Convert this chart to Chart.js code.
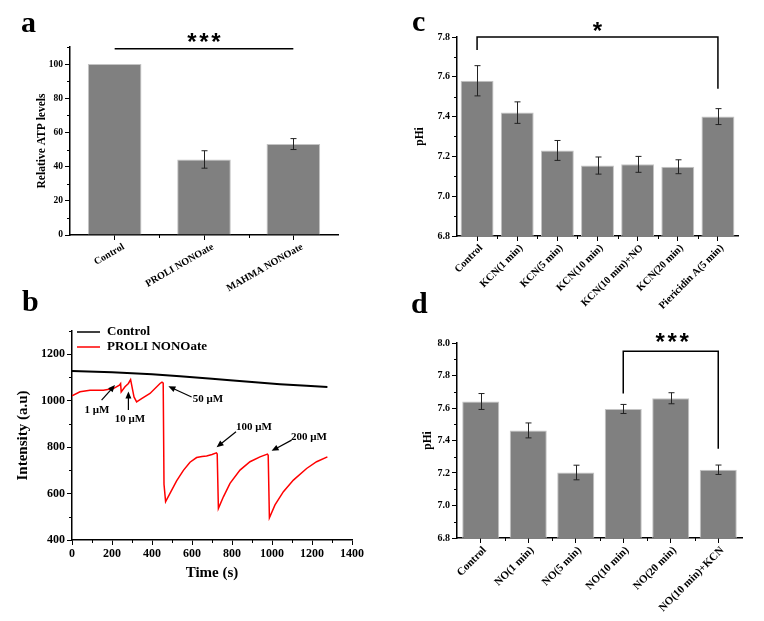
<!DOCTYPE html>
<html>
<head>
<meta charset="utf-8">
<script src="https://cdn.jsdelivr.net/npm/chart.js@4.4.1/dist/chart.umd.min.js"></script>
<style>
  body { margin: 0; background: #fff; }
  #figura { position: relative; width: 764px; height: 621px; overflow: hidden; background: #fff; }
  canvas { position: absolute; }
  .letra { position: absolute; font: bold 30px "Liberation Serif", "Times New Roman", serif; line-height: 1; color: #000; }
</style>
</head>
<body>
<div id="figura">
  <canvas id="graficoA" width="380" height="300" style="left:0;top:0"></canvas>
  <canvas id="graficoB" width="380" height="321" style="left:0;top:300px"></canvas>
  <canvas id="graficoC" width="384" height="320" style="left:380px;top:0"></canvas>
  <canvas id="graficoD" width="384" height="321" style="left:380px;top:300px"></canvas>
  <div class="letra" style="left:21px;top:7px">a</div>
  <div class="letra" style="left:22px;top:286px">b</div>
  <div class="letra" style="left:412px;top:6px">c</div>
  <div class="letra" style="left:411px;top:288px">d</div>
</div>
<script>
// painel a
const rotulosA = ['Control', 'PROLI NONOate', 'MAHMA NONOate'];
const atpMedia = [100, 44.2, 53.2];
const atpErro = [0, 5.1, 3.2];

// painel b
const tempoControle = [0, 200, 400, 540, 700, 790, 900, 1040, 1173, 1277];
const intensControle = [1128, 1122, 1114, 1105, 1094, 1088, 1080, 1071, 1064, 1059];
const tempoProli = [0, 40, 90, 157, 207, 237, 243, 246, 265, 282, 293, 310, 323, 348, 390, 440, 450, 456, 460, 468,
  490, 523, 557, 590, 623, 650, 673, 700, 722, 726, 732, 757, 790, 840, 890, 940, 977, 981, 987,
  1015, 1057, 1107, 1173, 1223, 1277];
const intensProli = [1021, 1038, 1045, 1045, 1052, 1067, 1074, 1038, 1060, 1074, 1091, 1016, 995, 1009, 1031, 1074, 1080, 1076, 640, 565,
  601, 655, 700, 735, 755, 760, 762, 768, 775, 770, 536, 586, 644, 701, 737, 758, 770, 765, 496,
  551, 608, 658, 708, 737, 758];

// painel c
const rotulosC = ['Control', 'KCN(1 min)', 'KCN(5 min)', 'KCN(10 min)', 'KCN(10 min)+NO', 'KCN(20 min)', 'Piericidin A(5 min)'];
const phiC = [7.58, 7.42, 7.23, 7.154, 7.16, 7.148, 7.40];
const erroC = [0.076, 0.054, 0.05, 0.043, 0.04, 0.035, 0.04];

// painel d
const rotulosD = ['Control', 'NO(1 min)', 'NO(5 min)', 'NO(10 min)', 'NO(20 min)', 'NO(10 min)+KCN'];
const phiD = [7.64, 7.462, 7.203, 7.594, 7.66, 7.22];
const erroD = [0.049, 0.046, 0.045, 0.028, 0.034, 0.029];

Chart.defaults.font.family = '"Liberation Serif", "Times New Roman", serif';
Chart.defaults.font.weight = 'bold';
Chart.defaults.color = '#000';

const FONTE_SANS = '"Liberation Sans", Arial, sans-serif';

function linha(ctx, x1, y1, x2, y2) {
  ctx.beginPath(); ctx.moveTo(x1, y1); ctx.lineTo(x2, y2); ctx.stroke();
}

// ticks menores (estilo Origin)
const pluginTicksMenores = {
  id: 'ticksMenores',
  afterDraw(chart) {
    const { ctx } = chart;
    const x = chart.scales.x, y = chart.scales.y;
    ctx.save();
    ctx.strokeStyle = '#000';
    ctx.lineWidth = 1;
    const ty = y.ticks.map(t => t.value);
    const passoY = ty[1] - ty[0];
    for (let v = ty[0] + passoY / 2; v <= y.max + 1e-6; v += passoY) {
      const p = Math.round(y.getPixelForValue(v)) + 0.5;
      linha(ctx, x.left - 3, p, x.left, p);
    }
    if (x.type === 'category') {
      for (let i = 0; i < x.ticks.length - 1; i++) {
        const p = Math.round((x.getPixelForValue(i) + x.getPixelForValue(i + 1)) / 2) + 0.5;
        linha(ctx, p, y.bottom, p, y.bottom + 3);
      }
    } else {
      const tx = x.ticks.map(t => t.value);
      const passoX = tx[1] - tx[0];
      for (let v = tx[0] + passoX / 2; v < x.max; v += passoX) {
        const p = Math.round(x.getPixelForValue(v)) + 0.5;
        linha(ctx, p, y.bottom, p, y.bottom + 3);
      }
    }
    ctx.restore();
  }
};

function pluginErro(erros) {
  return {
    id: 'barrasErro',
    afterDatasetsDraw(chart) {
      const { ctx } = chart;
      const y = chart.scales.y;
      const barras = chart.getDatasetMeta(0).data;
      const valores = chart.data.datasets[0].data;
      ctx.save();
      ctx.strokeStyle = '#222';
      ctx.lineWidth = 1;
      barras.forEach((b, i) => {
        if (!erros[i]) return;
        const x = Math.round(b.x) + 0.5;
        const y1 = y.getPixelForValue(valores[i] + erros[i]);
        const y2 = y.getPixelForValue(valores[i] - erros[i]);
        linha(ctx, x, y1, x, y2);
        linha(ctx, x - 3, y1, x + 3, y1);
        linha(ctx, x - 3, y2, x + 3, y2);
      });
      ctx.restore();
    }
  };
}

// colchete de significância
function pluginSignif(s) {
  return {
    id: 'signif',
    afterDraw(chart) {
      const { ctx } = chart;
      const x = chart.scales.x, y = chart.scales.y;
      const xa = x.getPixelForValue(s.i1), xb = x.getPixelForValue(s.i2);
      const yt = y.getPixelForValue(s.topo);
      ctx.save();
      ctx.strokeStyle = '#000';
      ctx.lineWidth = 1.5;
      ctx.beginPath();
      if (s.esq !== null) ctx.moveTo(xa, y.getPixelForValue(s.esq)); else ctx.moveTo(xa, yt);
      ctx.lineTo(xa, yt);
      ctx.lineTo(xb, yt);
      if (s.dir !== null) ctx.lineTo(xb, y.getPixelForValue(s.dir));
      ctx.stroke();
      ctx.fillStyle = '#000';
      ctx.font = 'bold 24px ' + FONTE_SANS;
      ctx.textAlign = 'center';
      ctx.textBaseline = 'alphabetic';
      const cx = x.getPixelForValue(s.xTexto);
      const by = y.getPixelForValue(s.yTexto) + 24 * 0.57;
      for (let k = 0; k < s.estrelas; k++) {
        ctx.fillText('*', cx + (k - (s.estrelas - 1) / 2) * 12, by);
      }
      ctx.restore();
    }
  };
}

function ehMultiplo(v, min, passo) {
  const k = (v - min) / passo;
  return Math.abs(k - Math.round(k)) < 1e-6;
}

function opcoesBarras(c) {
  return {
    responsive: false,
    animation: false,
    devicePixelRatio: 1,
    layout: { padding: { top: c.topo, right: c.direita, left: 0, bottom: 0 } },
    plugins: { legend: { display: false }, tooltip: { enabled: false } },
    scales: {
      x: {
        grid: { drawOnChartArea: false, offset: false, color: '#000', tickLength: 5, lineWidth: 1 },
        border: { color: '#000', width: 1.5 },
        ticks: { font: { size: c.fonteX, weight: 'bold' }, maxRotation: c.rot, minRotation: c.rot, autoSkip: false,
                 padding: 1, labelOffset: c.deslocX },
        afterFit: s => { s.height = c.altX; }
      },
      y: {
        min: c.min, max: c.max,
        grid: { drawOnChartArea: false, color: '#000', tickLength: 5, lineWidth: 1 },
        border: { color: '#000', width: 1.5 },
        ticks: { stepSize: c.passo, font: { size: c.fonteY, weight: 'bold' }, padding: 2,
                 callback: v => c.decimais ? Number(v).toFixed(c.decimais) : String(v) },
        afterBuildTicks: s => { s.ticks = s.ticks.filter(t => ehMultiplo(t.value, c.min, c.passo)); },
        title: { display: true, text: c.tituloY, font: { size: 11.5, weight: 'bold' }, padding: { top: c.padTitulo, bottom: 0 } },
        afterFit: s => { s.width = c.largY; }
      }
    }
  };
}

function dadosBarras(rotulos, valores, perc) {
  return {
    labels: rotulos,
    datasets: [{ data: valores, backgroundColor: '#808080', borderColor: '#c4c4c4', borderWidth: 1,
                 barPercentage: perc, categoryPercentage: 1 }]
  };
}

// a
new Chart(document.getElementById('graficoA'), {
  type: 'bar',
  data: dadosBarras(rotulosA, atpMedia, 0.6),
  options: opcoesBarras({ topo: 47, direita: 42, altX: 65, largY: 70, min: 0, max: 110, passo: 20,
    fonteX: 10, fonteY: 9.5, rot: 30, deslocX: 9, tituloY: 'Relative ATP levels', padTitulo: 35 }),
  plugins: [pluginTicksMenores, pluginErro(atpErro),
    pluginSignif({ i1: 0, i2: 2, topo: 109, esq: null, dir: null, estrelas: 3, xTexto: 1, yTexto: 116 })]
});

// c (eixo x mais alto para os rótulos não serem cortados)
new Chart(document.getElementById('graficoC'), {
  type: 'bar',
  data: dadosBarras(rotulosC, phiC, 0.82),
  options: opcoesBarras({ topo: 37, direita: 26, altX: 84, largY: 77, min: 6.8, max: 7.8, passo: 0.2,
    fonteX: 10.5, fonteY: 10, rot: 45, deslocX: 4, tituloY: 'pHi', padTitulo: 33, decimais: 1 }),
  plugins: [pluginTicksMenores, pluginErro(erroC),
    pluginSignif({ i1: 0, i2: 6, topo: 7.8, esq: 7.735, dir: 7.54, estrelas: 1, xTexto: 3, yTexto: 7.86 })]
});

// d
new Chart(document.getElementById('graficoD'), {
  type: 'bar',
  data: dadosBarras(rotulosD, phiD, 0.78),
  options: opcoesBarras({ topo: 43, direita: 22, altX: 83, largY: 77, min: 6.8, max: 8.0, passo: 0.2,
    fonteX: 11, fonteY: 10, rot: 45, deslocX: 4, tituloY: 'pHi', padTitulo: 41, decimais: 1 }),
  plugins: [pluginTicksMenores, pluginErro(erroD),
    pluginSignif({ i1: 3, i2: 5, topo: 7.95, esq: 7.69, dir: 7.35, estrelas: 3, xTexto: 4.03, yTexto: 8.04 })]
});

// b: setas e legenda
const pluginAnotacoesB = {
  id: 'anotacoesB',
  afterDraw(chart) {
    const { ctx } = chart;
    const x = chart.scales.x, y = chart.scales.y;
    const notas = [
      { t: '1 μM', p: [125, 959], de: [148, 1002], para: [215, 1067] },
      { t: '10 μM', p: [290, 920], de: [282, 960], para: [282, 1040] },
      { t: '50 μM', p: [680, 1006], de: [598, 1016], para: [482, 1062] },
      { t: '100 μM', p: [910, 885], de: [820, 866], para: [723, 799] },
      { t: '200 μM', p: [1185, 842], de: [1098, 830], para: [998, 784] }
    ];
    ctx.save();
    ctx.fillStyle = '#000';
    ctx.strokeStyle = '#000';
    ctx.lineWidth = 1.2;
    ctx.font = 'bold 11px "Liberation Serif", serif';
    ctx.textAlign = 'center';
    ctx.textBaseline = 'middle';
    notas.forEach(n => {
      ctx.fillText(n.t, x.getPixelForValue(n.p[0]), y.getPixelForValue(n.p[1]));
      const x1 = x.getPixelForValue(n.de[0]), y1 = y.getPixelForValue(n.de[1]);
      const x2 = x.getPixelForValue(n.para[0]), y2 = y.getPixelForValue(n.para[1]);
      const ang = Math.atan2(y2 - y1, x2 - x1);
      linha(ctx, x1, y1, x2 - 4 * Math.cos(ang), y2 - 4 * Math.sin(ang));
      ctx.beginPath();
      ctx.moveTo(x2, y2);
      ctx.lineTo(x2 - 7 * Math.cos(ang) + 3 * Math.sin(ang), y2 - 7 * Math.sin(ang) - 3 * Math.cos(ang));
      ctx.lineTo(x2 - 7 * Math.cos(ang) - 3 * Math.sin(ang), y2 - 7 * Math.sin(ang) + 3 * Math.cos(ang));
      ctx.closePath();
      ctx.fill();
    });
    // legenda
    ctx.textAlign = 'left';
    ctx.font = 'bold 13px "Liberation Serif", serif';
    chart.data.datasets.forEach((ds, i) => {
      const yy = 32 + i * 15;
      ctx.strokeStyle = ds.borderColor;
      ctx.lineWidth = 1.5;
      linha(ctx, 77, yy, 100, yy);
      ctx.fillText(ds.label, 107, yy);
    });
    ctx.restore();
  }
};

new Chart(document.getElementById('graficoB'), {
  type: 'line',
  data: {
    datasets: [
      { label: 'Control', data: tempoControle.map((t, i) => ({ x: t, y: intensControle[i] })),
        borderColor: '#000', borderWidth: 2, pointRadius: 0, tension: 0 },
      { label: 'PROLI NONOate', data: tempoProli.map((t, i) => ({ x: t, y: intensProli[i] })),
        borderColor: '#ff0000', borderWidth: 1.5, pointRadius: 0, tension: 0 }
    ]
  },
  options: {
    responsive: false,
    animation: false,
    devicePixelRatio: 1,
    layout: { padding: { top: 31, right: 28, left: 0, bottom: 0 } },
    plugins: { legend: { display: false }, tooltip: { enabled: false } },
    scales: {
      x: {
        type: 'linear', min: 0, max: 1400,
        grid: { drawOnChartArea: false, color: '#000', tickLength: 5, lineWidth: 1 },
        border: { color: '#000', width: 1.5 },
        ticks: { stepSize: 200, font: { size: 12, weight: 'bold' }, padding: 2, maxRotation: 0, callback: v => String(v) },
        title: { display: true, text: 'Time (s)', font: { size: 15, weight: 'bold' }, padding: { top: 0, bottom: 39 } },
        afterFit: s => { s.height = 81; }
      },
      y: {
        min: 400, max: 1300,
        grid: { drawOnChartArea: false, color: '#000', tickLength: 5, lineWidth: 1 },
        border: { color: '#000', width: 1.5 },
        ticks: { stepSize: 200, font: { size: 12, weight: 'bold' }, padding: 2, callback: v => String(v) },
        afterBuildTicks: s => { s.ticks = s.ticks.filter(t => ehMultiplo(t.value, 400, 200)); },
        title: { display: true, text: 'Intensity (a.u)', font: { size: 15, weight: 'bold' }, padding: { top: 14, bottom: 0 } },
        afterFit: s => { s.width = 72; }
      }
    }
  },
  plugins: [pluginTicksMenores, pluginAnotacoesB]
});
</script>
</body>
</html>
